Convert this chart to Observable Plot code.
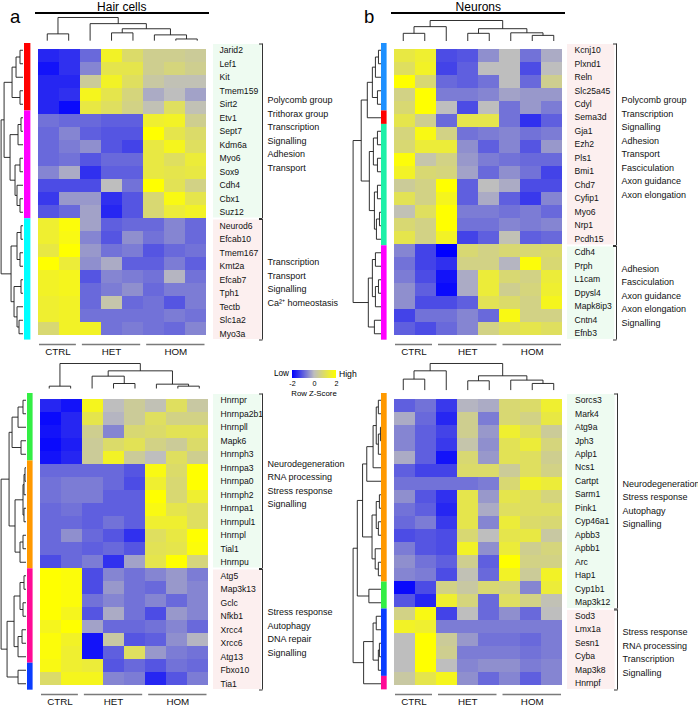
<!DOCTYPE html>
<html><head><meta charset="utf-8">
<script src="https://cdn.jsdelivr.net/npm/d3@7"></script>
<script src="https://cdn.jsdelivr.net/npm/@observablehq/plot@0.6"></script>
<style>
body{margin:0;background:#fff;font-family:"Liberation Sans",Arial,sans-serif}
#fig{position:relative;width:698px;height:706px;overflow:hidden;background:#fff}
.t{position:absolute;white-space:nowrap;color:#000;line-height:1}
</style></head><body><div id="fig"></div><script>
// ---------- DATA ----------
const samples = ["CTRL","CTRL","HET","HET","HET","HOM","HOM","HOM"];

// Panel a: Hair cells (top)
const aGenes = ["Jarid2","Lef1","Kit","Tmem159","Sirt2","Etv1","Sept7","Kdm6a","Myo6","Sox9","Cdh4","Cbx1","Suz12","Neurod6","Efcab10","Tmem167","Kmt2a","Efcab7","Tph1","Tectb","Slc1a2","Myo3a"];
const aZ = [
[-1.6,-1.5,-0.9,1.6,0.9,0.5,0.5,0.4],
[-1.8,-1.5,-0.6,1.2,1.2,0.5,0.7,0.5],
[-1.6,-1.6,0.4,1.6,1.0,0.3,0.1,0.1],
[-1.6,-1.5,1.7,1.2,0.7,-0.2,0.0,-0.3],
[-1.6,-1.9,1.3,1.0,0.6,0.1,1.0,0.1],
[-0.8,-0.9,-0.9,-1.0,-1.0,1.5,1.6,0.5],
[-0.9,-0.6,-1.0,-1.1,-1.1,2.0,1.2,0.9],
[-0.9,-0.7,-0.5,-1.1,-1.3,1.3,1.7,1.0],
[-0.9,-0.8,-1.1,-0.9,-0.9,1.3,1.0,1.4],
[-0.6,-0.2,-1.5,-1.0,-1.0,1.3,1.2,1.3],
[-1.2,-1.2,-1.2,0.0,-0.8,2.0,1.1,0.6],
[-1.4,-0.4,-0.4,-1.5,-1.1,0.8,1.8,1.2],
[-1.1,-0.9,-0.3,-1.6,-1.1,0.8,1.4,1.6],
[1.5,1.9,-0.3,-1.0,-0.9,-0.9,-0.6,-0.9],
[1.5,1.8,-0.6,-1.1,-0.5,-0.8,-0.6,-0.9],
[1.3,2.0,-0.4,-0.8,-0.7,-1.1,-0.9,-0.8],
[2.0,1.4,-0.5,-0.2,-1.0,-1.0,-0.7,-1.0],
[1.6,1.7,-1.1,-0.6,-0.7,-0.8,-0.1,-0.8],
[1.6,1.7,-0.9,-0.7,-0.5,-0.9,-0.7,-0.7],
[1.5,1.6,-0.9,0.2,-0.9,-0.8,-1.1,-0.7],
[1.5,1.6,-0.8,-0.8,-0.8,-0.8,-0.7,-0.8],
[0.8,1.6,1.6,-0.8,-0.7,-0.8,-0.9,-0.6]];
const aModules = [5,8,9];
const aBoxes = [13,9];
const aBoxTints = ["mintBox","roseBox"];
const aNotes = [["Polycomb group","Trithorax group","Transcription","Signalling","Adhesion","Transport"],["Transcription","Transport","Signalling","Ca²⁺ homeostasis"]];
const aColTree = [[0,1,20],[2,[[3,4,23],[5,[6,7,5],17],35],50],68];
const aRowTree = [[[[[0,1,3],2,7],[3,4,3],11],[[[5,6,2],7,5],[[8,9,3],[10,[11,12,3],6],8],13],19],[[[13,14,2],[15,16,3],6],[[17,18,2],[19,[20,21,4],6],9],12],22];

// Panel b: Neurons (top)
const bGenes = ["Kcnj10","Plxnd1","Reln","Slc25a45","Cdyl","Sema3d","Gja1","Ezh2","Pls1","Bmi1","Chd7","Cyfip1","Myo6","Nrp1","Pcdh15","Cdh4","Prph","L1cam","Dpysl4","Mapk8ip3","Cntn4","Efnb3"];
const bZ = [
[1.3,1.5,-1.2,-1.1,-0.5,0.0,-0.8,-0.2],
[1.0,1.6,-1.3,-1.0,0.0,0.0,-1.2,0.0],
[2.0,0.8,-0.9,-1.0,-0.8,0.0,-0.9,0.5],
[0.6,2.0,-0.7,-0.7,-0.6,-0.3,-0.4,-0.4],
[0.8,2.0,0.0,-1.2,0.0,-0.8,-0.4,-0.7],
[1.2,0.5,-0.9,1.2,1.2,-0.8,-1.5,-1.0],
[0.7,1.8,0.6,-0.8,-0.7,-0.6,-0.8,-0.7],
[0.8,1.4,1.4,-0.5,-1.0,-0.6,-1.1,-0.4],
[1.9,0.2,0.6,-0.4,-0.7,-0.8,-0.9,-0.9],
[1.6,0.8,0.7,-0.3,-0.9,-0.5,-0.8,-1.3],
[0.4,0.6,2.0,-1.0,0.0,-0.2,-1.2,-1.2],
[1.1,0.6,1.7,-1.0,-0.2,-1.0,-1.4,-0.6],
[0.1,1.0,2.0,-0.7,-0.7,-0.8,-0.7,-0.9],
[0.8,0.6,2.0,-0.8,-0.8,-0.6,-0.7,-0.6],
[1.2,0.6,1.6,-1.3,-1.0,0.1,-1.0,-0.9],
[-0.6,-1.3,-2.0,0.8,0.6,0.8,0.8,0.9],
[-0.8,-1.3,-1.5,0.6,0.6,-0.1,1.9,0.8],
[-0.7,-1.2,-1.8,-0.2,1.4,0.8,0.6,1.4],
[-0.5,-1.0,-1.9,-0.2,1.4,0.5,0.7,1.5],
[-0.5,-1.2,-1.2,-1.0,1.1,0.9,0.6,1.7],
[-1.3,-0.8,-0.8,-0.6,-0.9,1.8,0.6,0.6],
[-1.0,-1.2,-0.9,-0.6,0.6,1.0,1.2,1.0]];
const bModules = [5,1,9,7];
const bBoxes = [15,7];
const bBoxTints = ["roseBox","mintBox"];
const bNotes = [["Polycomb group","Transcription","Signalling","Adhesion","Transport","Fasciculation","Axon guidance","Axon elongation"],["Adhesion","Fasciculation","Axon guidance","Axon elongation","Signalling"]];
const bColTree = [[[0,1,30],2,56],[[3,4,30],[5,[6,7,22],32],48],80];
const bRowTree = [[[[[[0,1,3],2,6],[3,4,4],9],5,14],[[[6,7,4],[8,9,4],8],[[10,11,4],[[12,13,2],14,5],7],12],20],[[[15,16,6],[[17,18,3],19,6],9],[20,21,7],13],28];

// Panel c: Hair cells (bottom)
const cGenes = ["Hnrnpr","Hnrnpa2b1","Hnrnpll","Mapk6","Hnrnph3","Hnrnpa3","Hnrnpa0","Hnrnph2","Hnrnpa1","Hnrnpul1","Hnrnpl","Tial1","Hnrnpu","Atg5","Map3k13","Gclc","Nfkb1","Xrcc4","Xrcc6","Atg13","Fbxo10","Tia1"];
const cZ = [
[-1.6,-1.8,1.7,0.0,0.4,0.1,1.0,0.3],
[-1.9,-1.6,1.2,-0.1,0.4,1.0,0.6,0.6],
[-1.8,-1.6,0.5,-0.6,0.8,0.9,1.1,1.1],
[-1.9,-1.7,0.4,0.9,1.1,0.6,0.4,0.9],
[-1.8,-1.6,0.4,1.6,0.4,0.0,1.0,0.5],
[-0.9,-0.9,-0.9,-0.9,-1.1,1.8,0.9,2.0],
[-0.8,-0.7,-0.7,-0.9,-1.2,1.5,0.8,2.0],
[-0.8,-0.7,-0.7,-1.0,-1.0,2.0,0.8,1.5],
[-0.9,-0.8,-1.0,-1.0,-1.0,1.8,1.2,1.0],
[-0.9,-0.9,-1.0,-0.8,-1.0,1.5,1.5,1.0],
[-0.9,-0.5,-0.9,-1.1,-1.5,1.0,1.3,2.0],
[-0.9,-0.9,-1.0,-0.9,-1.1,1.1,1.2,1.9],
[-1.2,-0.9,-0.7,-1.5,-0.3,1.2,2.0,0.7],
[2.0,1.9,-1.2,-0.6,-0.8,-0.6,-0.4,-0.7],
[2.0,1.9,-1.2,-0.4,-0.8,-0.9,-0.4,-0.6],
[2.0,1.9,-0.8,-0.6,-0.8,-0.6,-0.9,-0.6],
[2.0,1.7,-1.1,-0.2,-0.8,-1.2,-0.4,-0.6],
[1.7,2.0,-0.3,-0.9,-0.9,-0.8,-0.6,-0.9],
[1.9,1.6,-1.8,0.3,-1.1,-1.0,-0.5,-0.1],
[1.9,1.5,-1.8,-1.0,1.0,-0.4,-0.7,-0.8],
[1.8,1.5,1.4,-1.1,-0.9,-1.1,-0.8,-0.9],
[0.9,1.7,1.7,-0.6,-0.7,-1.6,-1.1,-0.7]];
const cModules = [5,8,7,2];
const cBoxes = [13,9];
const cBoxTints = ["mintBox","roseBox"];
const cNotes = [["Neurodegeneration","RNA processing","Stress response","Signalling"],["Stress response","Autophagy","DNA repair","Signalling"]];
const cColTree = [[0,1,7],[[2,[3,4,15],37],[5,[6,7,7],13],53],75];
const cRowTree = [[[[[0,1,3],2,8],[3,4,5],14],[[[[5,6,1],7,2],[8,9,2],3],[[10,11,3],12,6],11],17],[[[[13,14,2],[15,16,3],6],[[17,18,4],19,8],12],[20,21,8],19],25];

// Panel d: Neurons (bottom)
const dGenes = ["Sorcs3","Mark4","Atg9a","Jph3","Aplp1","Ncs1","Cartpt","Sarm1","Pink1","Cyp46a1","Apbb3","Apbb1","Arc","Hap1","Cyp1b1","Map3k12","Sod3","Lmx1a","Sesn1","Cyba","Map3k8","Hnrnpf"];
const dZ = [
[-1.0,-0.8,-1.4,-0.1,-0.2,0.8,0.9,1.5],
[-0.2,-0.9,-1.6,0.5,-0.7,0.8,0.6,1.3],
[-0.6,-1.0,-1.3,0.5,-0.4,1.5,1.0,0.4],
[-0.6,-1.0,-1.4,0.2,-0.5,1.1,1.4,0.7],
[-0.2,-1.0,-1.8,0.8,-0.4,1.1,1.0,0.5],
[-1.0,-1.3,-1.3,0.9,0.9,0.4,1.0,0.6],
[-0.8,-0.8,-0.8,-0.8,-0.7,0.8,1.6,1.4],
[-0.5,-1.1,-1.5,1.2,-0.4,1.2,1.0,0.7],
[-0.8,-1.0,-1.6,1.2,-0.2,1.0,1.0,1.0],
[-0.9,-0.7,-1.4,1.2,-0.6,1.4,0.9,0.8],
[-1.2,-1.1,-1.2,0.8,0.0,1.2,1.3,0.3],
[-0.7,-1.1,-1.2,1.6,-0.5,1.4,0.5,0.7],
[-0.5,-0.8,-1.0,0.5,-1.0,2.0,0.6,0.6],
[-0.6,-0.7,-1.2,0.1,-0.9,1.6,0.4,1.6],
[-1.9,-1.2,0.6,0.3,0.8,0.7,-0.6,1.4],
[-1.1,-1.6,1.5,0.7,-0.9,1.0,0.6,0.1],
[0.6,1.8,-1.3,0.0,-0.9,-0.5,-0.9,0.0],
[1.6,1.5,-0.7,-0.7,-0.7,-0.7,-0.7,-0.7],
[0.0,2.0,0.4,-0.4,-0.8,-0.8,-0.9,-0.7],
[0.0,2.0,0.5,-0.7,-0.7,-0.7,-0.8,-0.7],
[0.0,2.0,0.0,-0.6,-0.5,-0.5,-0.7,-0.6],
[0.3,1.2,1.7,-0.5,-0.9,-0.6,-1.0,-0.6]];
const dModules = [14,2,5,1];
const dBoxes = [16,6];
const dBoxTints = ["mintBox","roseBox"];
const dNotes = [["Neurodegeneration","Stress response","Autophagy","Signalling"],["Stress response","RNA processing","Transcription","Signalling"]];
const dColTree = [[[0,1,33],2,58],[[3,4,28],[5,[6,7,20],30],43],80];
const dRowTree = [[[[[[[0,1,3],[[2,3,1],4,3],5],5,8],6,14],[[[7,8,2],[9,10,3],5],[11,[12,13,3],6],9],18],[14,15,12],23],[[[16,17,5],[[18,19,2],20,3],8],21,17],27];

const legendTicks = [-2,0,2];

// ---------- STYLE / LAYOUT ----------
const FONT = "'Liberation Sans', Arial, sans-serif";
const heatColor = {type:"linear", domain:[-2,0,2], range:["#0000ff","#bebebe","#ffff00"], interpolate:"rgb", clamp:true};
const tintColor = {type:"ordinal", domain:["mintBox","roseBox"], range:["#eefbf1","#fcefef"]};
const svgStyle = {background:"transparent", overflow:"visible", fontFamily:FONT};
const LINE = "#1a1a1a";

const fig = document.getElementById("fig");
function place(node, left, top){
  node.style.position = "absolute";
  node.style.left = left + "px";
  node.style.top = top + "px";
  node.style.maxWidth = "none";
  fig.appendChild(node);
}
function label(text, left, top, size, opts={}){
  const d = document.createElement("div");
  d.className = "t"; d.textContent = text;
  d.style.fontSize = size + "px";
  d.style.left = left + "px"; d.style.top = top + "px";
  if (opts.center) d.style.transform = "translateX(-50%)";
  if (opts.right) d.style.transform = "translateX(-100%)";
  fig.appendChild(d);
}
function runs(sizes){ let s = 0; return sizes.map((n,k)=>{ const r = {k, start:s, end:s+n}; s += n; return r; }); }
function dendro(tree){
  const segs = [];
  function walk(nd){
    if (typeof nd === "number") return {p: nd + 0.5, h: 0};
    const [l, r, h] = nd, L = walk(l), R = walk(r);
    segs.push({p1:L.p, h1:L.h, p2:L.p, h2:h});
    segs.push({p1:R.p, h1:R.h, p2:R.p, h2:h});
    segs.push({p1:L.p, h1:h, p2:R.p, h2:h});
    return {p:(L.p + R.p)/2, h};
  }
  const root = walk(tree);
  return {segs, maxH: root.h};
}

function panel(P, L){
  const n = P.genes.length, ncol = samples.length, hm = L.hm;
  // heatmap
  const cells = P.genes.flatMap((g,i)=>P.z[i].map((z,j)=>({gene:g, col:j, z})));
  place(Plot.plot({width:hm.w, height:hm.h, margin:0, style:svgStyle,
    x:{type:"band", domain:d3.range(ncol), padding:0, axis:null},
    y:{type:"band", domain:P.genes, padding:0, axis:null},
    color:heatColor,
    marks:[Plot.cell(cells, {x:"col", y:"gene", fill:"z", inset:0, shapeRendering:"crispEdges"})]
  }), hm.x, hm.y);
  // column dendrogram
  const cd = dendro(P.colTree);
  place(Plot.plot({width:hm.w, height:L.colDen.h, margin:0, marginTop:1, style:svgStyle,
    x:{domain:[0,ncol], range:[0,hm.w], axis:null},
    y:{domain:[0,cd.maxH], axis:null},
    marks:[Plot.link(cd.segs, {x1:"p1", y1:"h1", x2:"p2", y2:"h2", stroke:LINE, strokeWidth:0.9})]
  }), hm.x, L.colDen.y);
  // row dendrogram
  const rd = dendro(P.rowTree);
  place(Plot.plot({width:L.rowDen.w, height:hm.h, margin:0, style:svgStyle,
    x:{domain:[rd.maxH,0], range:[0.6, L.rowDen.w], axis:null},
    y:{domain:[0,n], range:[0,hm.h], axis:null},
    marks:[Plot.link(rd.segs, {x1:"h1", y1:"p1", x2:"h2", y2:"p2", stroke:LINE, strokeWidth:0.9})]
  }), L.rowDen.x, hm.y);
  // module colour bar
  const mods = runs(P.modules);
  place(Plot.plot({width:L.bar.w, height:hm.h, margin:0, style:svgStyle,
    x:{domain:[0,1], axis:null}, y:{domain:[0,n], range:[0,hm.h], axis:null},
    color:{type:"ordinal", domain:d3.range(mods.length), range:L.bar.colors},
    marks:[Plot.rect(mods, {x1:()=>0, x2:()=>1, y1:"start", y2:"end", fill:"k"})]
  }), L.bar.x, hm.y);
  // gene labels with tinted boxes
  const boxes = runs(P.boxes).map((b,i)=>({...b, tint:P.boxTints[i]}));
  place(Plot.plot({width:L.lab.w, height:hm.h, margin:0, style:svgStyle,
    x:{domain:[0,1], axis:null}, y:{domain:[0,n], range:[0,hm.h], axis:null},
    color:tintColor,
    marks:[
      Plot.rect(boxes, {x1:()=>0, x2:()=>1, y1:"start", y2:"end", fill:"tint", insetTop:1, insetBottom:1}),
      Plot.text(P.genes, {y:(d,i)=>i+0.5, text:d=>d, frameAnchor:"left", dx:L.lab.dx, fontSize:8.6, fill:"#111"})
    ]
  }), L.lab.x, hm.y);
  // brackets + functional notes
  const notes = boxes.flatMap((b,k)=>P.notes[k].map((t,j,arr)=>({t, y:(b.start+b.end)/2 - (arr.length-1)/2 + j + 0.2})));
  place(Plot.plot({width:L.notes.w, height:hm.h, margin:0, style:svgStyle,
    x:{domain:[0,L.notes.w], range:[0,L.notes.w], axis:null},
    y:{domain:[0,n], range:[0,hm.h], axis:null},
    marks:[
      Plot.ruleX(boxes, {x:()=>4, y1:"start", y2:"end", insetTop:0.5, insetBottom:0.5, stroke:"#333", strokeWidth:1}),
      Plot.ruleY(boxes, {y:"start", x1:()=>1, x2:()=>4.5, dy:0.5, stroke:"#333", strokeWidth:1}),
      Plot.ruleY(boxes, {y:"end", x1:()=>1, x2:()=>4.5, dy:-0.5, stroke:"#333", strokeWidth:1}),
      Plot.text(notes, {x:()=>9, y:"y", text:"t", textAnchor:"start", fontSize:9, fill:"#111"})
    ]
  }), L.notes.x, hm.y);
  // sample group labels
  const grp = d3.groups(samples.map((g,i)=>({g,i})), d=>d.g).map(([g,v])=>({g, start:v[0].i, end:v[v.length-1].i+1}));
  place(Plot.plot({width:hm.w, height:16, margin:0, style:svgStyle,
    x:{domain:[0,ncol], range:[0,hm.w], axis:null}, y:{domain:[0,1], range:[0,16], axis:null},
    marks:[
      Plot.ruleY(grp, {y:()=>0.25, x1:"start", x2:"end", insetLeft:3, insetRight:3, stroke:"#7a7a7a", strokeWidth:1.6}),
      Plot.text(grp, {x:d=>(d.start+d.end)/2, y:()=>0.68, text:"g", fontSize:9.8, fill:"#111"})
    ]
  }), hm.x, hm.y + hm.h);
  // title
  if (L.title){
    label(L.title, hm.x + hm.w/2, L.titleY, 12, {center:true});
    const u = document.createElement("div");
    u.style.cssText = `position:absolute;left:${hm.x-1}px;top:${L.titleY+11.8}px;width:${hm.w+2}px;height:1.7px;background:#000`;
    fig.appendChild(u);
  }
  if (L.letter) label(L.letter, L.letterX, L.letterY, 18.5);
}

const A = {genes:aGenes, z:aZ, modules:aModules, boxes:aBoxes, boxTints:aBoxTints, notes:aNotes, colTree:aColTree, rowTree:aRowTree};
const B = {genes:bGenes, z:bZ, modules:bModules, boxes:bBoxes, boxTints:bBoxTints, notes:bNotes, colTree:bColTree, rowTree:bRowTree};
const C = {genes:cGenes, z:cZ, modules:cModules, boxes:cBoxes, boxTints:cBoxTints, notes:cNotes, colTree:cColTree, rowTree:cRowTree};
const D = {genes:dGenes, z:dZ, modules:dModules, boxes:dBoxes, boxTints:dBoxTints, notes:dNotes, colTree:dColTree, rowTree:dRowTree};

panel(A, {hm:{x:36,y:43.3,w:171.5,h:297}, colDen:{y:16.3,h:24.2}, rowDen:{x:0,w:22.5},
  bar:{x:24.3,w:6.4,colors:["#ff0000","#ff00ff","#00ffff"]}, lab:{x:212.7,w:48.5,dx:6}, notes:{x:258,w:110},
  title:"Hair cells", titleY:0.6, letter:"a", letterX:10, letterY:7.5});
panel(B, {hm:{x:392.3,y:43.3,w:172,h:297}, colDen:{y:19,h:21.5}, rowDen:{x:351.5,w:29},
  bar:{x:381,w:5.6,colors:["#1e90ff","#ff0000","#1ef0a8","#ff00ff"]}, lab:{x:567.3,w:47.2,dx:7}, notes:{x:612.3,w:86},
  title:"Neurons", titleY:0.6, letter:"b", letterX:364, letterY:8.2});
panel(C, {hm:{x:37.7,y:392.7,w:171.5,h:297}, colDen:{y:362.3,h:26}, rowDen:{x:0,w:25.5},
  bar:{x:26.7,w:5.6,colors:["#33ee44","#ff9900","#ff0a96","#0a3cff"]}, lab:{x:213.3,w:48,dx:7}, notes:{x:258,w:110}});
panel(D, {hm:{x:392.3,y:393.3,w:172,h:297}, colDen:{y:361.7,h:27.6}, rowDen:{x:351.5,w:29},
  bar:{x:381,w:5.7,colors:["#ff9900","#33ee44","#0a3cff","#ff0a96"]}, lab:{x:567.3,w:47.7,dx:7.5}, notes:{x:612.7,w:86}});

// legend
const leg = Plot.legend({color:heatColor, width:46, height:17, marginTop:0, marginBottom:9, marginLeft:1, marginRight:1,
  ticks:legendTicks, tickFormat:d=>String(d), tickSize:0, label:null,
  style:{fontFamily:FONT, fontSize:"7.2px", background:"transparent", overflow:"visible"}});
leg.querySelectorAll(".tick line").forEach(l => l.remove());
place(leg, 291.3, 369.5);
label("Low", 289, 369.8, 8.2, {right:true});
label("High", 339, 369.8, 8.6);
label("Row Z-Score", 314, 389.6, 7.8, {center:true});
</script></body></html>
